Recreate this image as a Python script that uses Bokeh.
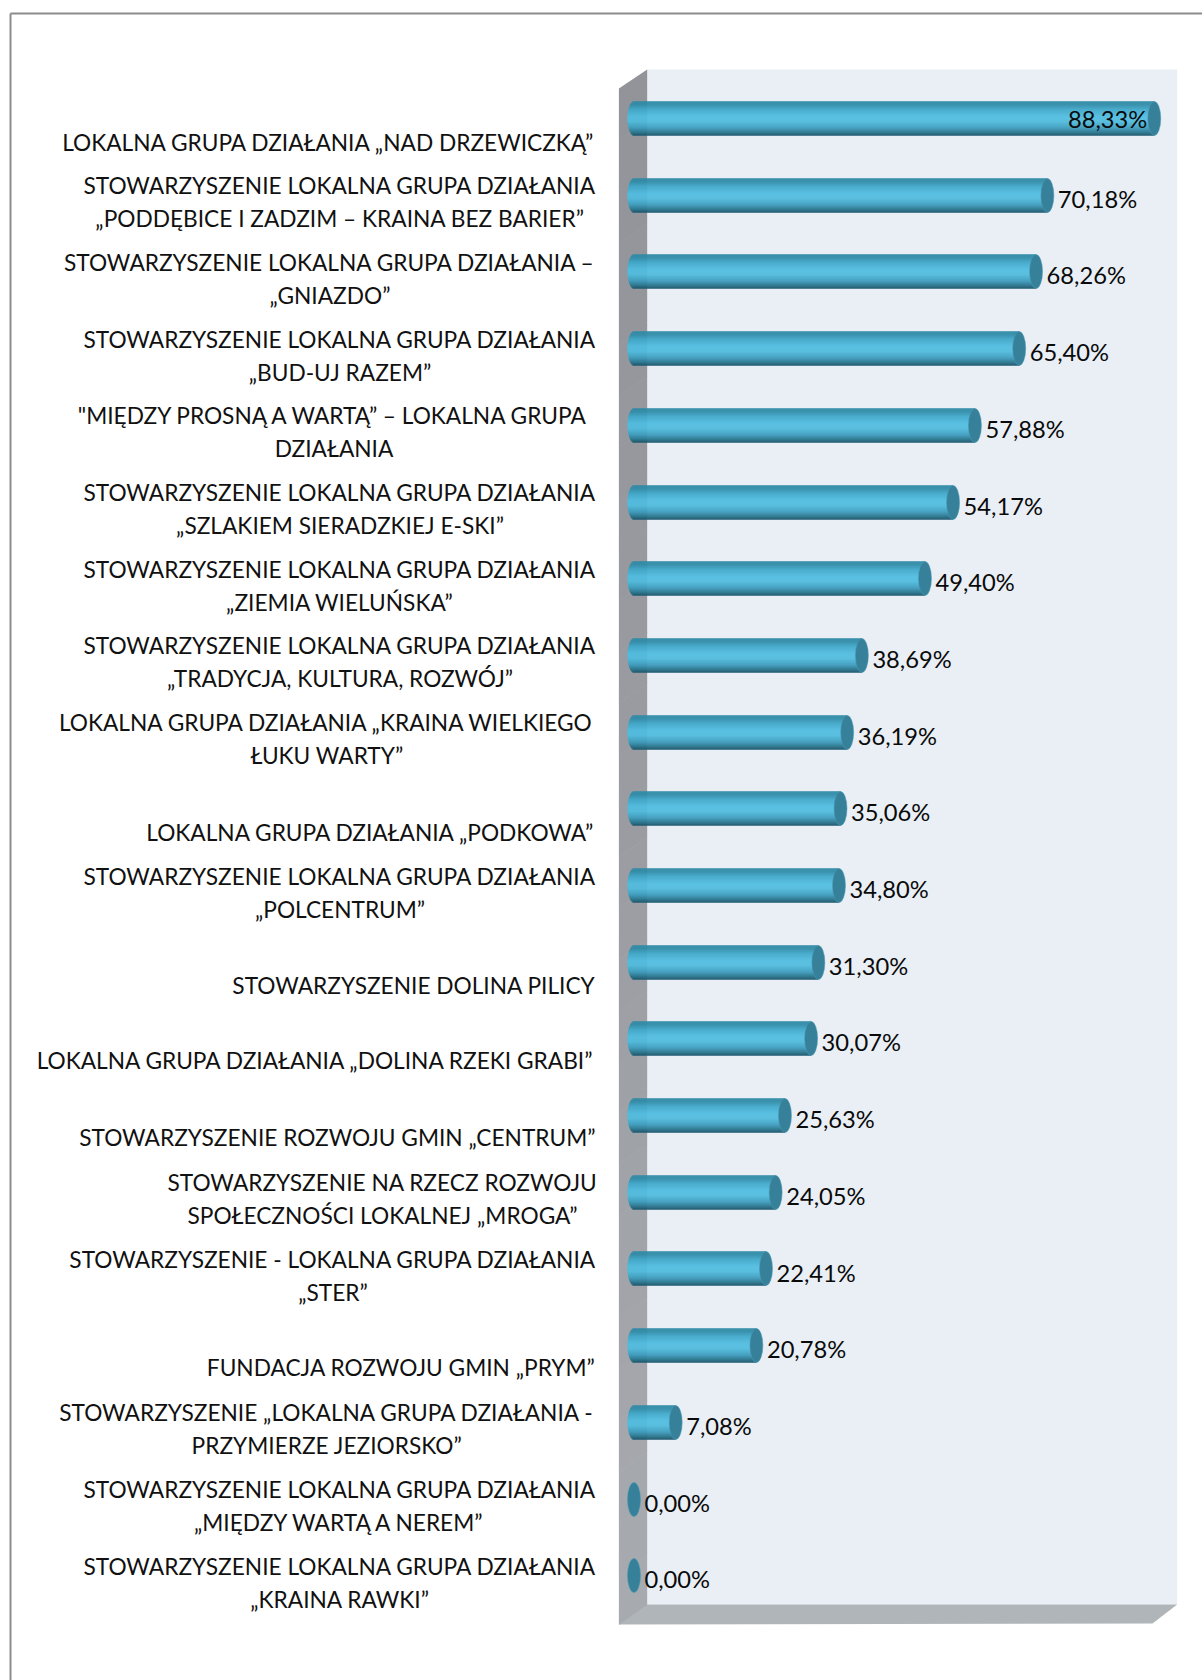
import math
from bokeh.plotting import figure
from bokeh.models import Range1d
from bokeh.core.properties import value
from bokeh.embed import file_html
from bokeh.resources import INLINE

labels = [
    ["LOKALNA GRUPA DZIAŁANIA „NAD DRZEWICZKĄ”"],
    ["STOWARZYSZENIE LOKALNA GRUPA DZIAŁANIA", "„PODDĘBICE I ZADZIM – KRAINA BEZ BARIER”"],
    ["STOWARZYSZENIE LOKALNA GRUPA DZIAŁANIA –", "„GNIAZDO”"],
    ["STOWARZYSZENIE LOKALNA GRUPA DZIAŁANIA", "„BUD-UJ RAZEM”"],
    ["\"MIĘDZY PROSNĄ A WARTĄ” – LOKALNA GRUPA", "DZIAŁANIA"],
    ["STOWARZYSZENIE LOKALNA GRUPA DZIAŁANIA", "„SZLAKIEM SIERADZKIEJ E-SKI”"],
    ["STOWARZYSZENIE LOKALNA GRUPA DZIAŁANIA", "„ZIEMIA WIELUŃSKA”"],
    ["STOWARZYSZENIE LOKALNA GRUPA DZIAŁANIA", "„TRADYCJA, KULTURA, ROZWÓJ”"],
    ["LOKALNA GRUPA DZIAŁANIA „KRAINA WIELKIEGO", "ŁUKU WARTY”"],
    ["LOKALNA GRUPA DZIAŁANIA „PODKOWA”"],
    ["STOWARZYSZENIE LOKALNA GRUPA DZIAŁANIA", "„POLCENTRUM”"],
    ["STOWARZYSZENIE DOLINA PILICY"],
    ["LOKALNA GRUPA DZIAŁANIA „DOLINA RZEKI GRABI”"],
    ["STOWARZYSZENIE ROZWOJU GMIN „CENTRUM”"],
    ["STOWARZYSZENIE NA RZECZ ROZWOJU", "SPOŁECZNOŚCI LOKALNEJ „MROGA”"],
    ["STOWARZYSZENIE - LOKALNA GRUPA DZIAŁANIA", "„STER”"],
    ["FUNDACJA ROZWOJU GMIN „PRYM”"],
    ["STOWARZYSZENIE „LOKALNA GRUPA DZIAŁANIA -", "PRZYMIERZE JEZIORSKO”"],
    ["STOWARZYSZENIE LOKALNA GRUPA DZIAŁANIA", "„MIĘDZY WARTĄ A NEREM”"],
    ["STOWARZYSZENIE LOKALNA GRUPA DZIAŁANIA", "„KRAINA RAWKI”"],
]
values = [88.33, 70.18, 68.26, 65.40, 57.88, 54.17, 49.40, 38.69, 36.19, 35.06,
          34.80, 31.30, 30.07, 25.63, 24.05, 22.41, 20.78, 7.08, 0.00, 0.00]

# layout, in picture pixels
PX0, PXU = 633.5, 5.89      # x pixel of 0 %, pixels per 1 %
PY0, PYU = 118.0, 76.7      # y pixel of the first bar, pixels per bar
W, H = 1202, 1680
HALF_H, CAP_W = 17, 13
TEXT_RIGHT = 595
BLOCK_WIDTH = {1: 511, 2: 531, 3: 511, 4: 523, 5: 511, 6: 511, 7: 511, 8: 537,
               10: 511, 14: 426, 15: 525, 17: 537, 18: 511, 19: 511}

def X(px):
    return (px - PX0) / PXU
def Y(py):
    return (py - PY0) / PYU

p = figure(width=W, height=H, output_backend="svg", toolbar_location=None,
           x_range=Range1d(X(0), X(W)), y_range=Range1d(Y(H), Y(0)),
           x_axis_location=None, y_axis_location=None, min_border=0,
           outline_line_color=None, background_fill_color="white",
           border_fill_color="white")
p.grid.visible = False

def hexmix(a, b, t):
    ca = [int(a[i:i + 2], 16) for i in (1, 3, 5)]
    cb = [int(b[i:i + 2], 16) for i in (1, 3, 5)]
    return "#%02x%02x%02x" % tuple(round(x + (y - x) * t) for x, y in zip(ca, cb))

def ramp(stops, t):
    for (t0, c0), (t1, c1) in zip(stops, stops[1:]):
        if t <= t1:
            return hexmix(c0, c1, (t - t0) / (t1 - t0))
    return stops[-1][1]

# frame of the picture
p.line([X(10), X(W)], [Y(13), Y(13)], line_color="#8c8c8c", line_width=2)
p.line([X(10), X(10)], [Y(13), Y(H)], line_color="#8c8c8c", line_width=2)

# back wall
p.patch([X(646.7), X(1176.7), X(1176.7), X(646.7)], [Y(69), Y(69), Y(1604), Y(1604)],
        fill_color="#e9eff5", line_color=None)
# floor
p.patch([X(618.4), X(646.7), X(1176.7), X(1152)], [Y(1624), Y(1604), Y(1604), Y(1623)],
        fill_color="#b0b5b9", line_color=None)
# side wall, in bands that darken toward the top
wall_stops = [(0, "#929499"), (0.5, "#9b9da2"), (1, "#a8abaf")]
N_WALL = 30
for k in range(N_WALL):
    a, b = k / N_WALL, (k + 1) / N_WALL
    tl, bl = 88 + (1624 - 88) * a, 88 + (1624 - 88) * b
    tr, br = 69 + (1604 - 69) * a, 69 + (1604 - 69) * b
    c = ramp(wall_stops, a)
    p.patch([X(618.4), X(646.7), X(646.7), X(618.4)],
            [Y(tl), Y(tr), Y(br + 0.6), Y(bl + 0.6)], fill_color=c, line_color=None)

# cylinders: overlapping pixel rows of colour following the curved left end
bar_stops = [(0, "#2f8aa6"), (0.1, "#2f8ca8"), (0.25, "#3fa8cb"), (0.45, "#50bcdf"),
             (0.6, "#50bbde"), (0.78, "#3d9dbe"), (0.9, "#2a7a94"), (1, "#1b566b")]
ys, lefts, rights, cols = [], [], [], []
centers = []
for i, v in enumerate(values):
    pyc = round(PY0 + PYU * i)
    centers.append(Y(pyc))
    if v <= 0:
        continue
    for r in range(HALF_H * 2):
        t = (r + 0.5) / (HALF_H * 2)
        u = 2 * t - 1
        ys.append(Y(pyc + r + 0.5 - HALF_H))
        lefts.append(-CAP_W / 2 * math.sqrt(1 - u * u) / PXU)
        rights.append(v)
        cols.append(ramp(bar_stops, t))
p.hbar(y=ys, left=lefts, right=rights, height=1.5 / PYU, fill_color=cols, line_color=None)

p.ellipse(x=values, y=centers, width=CAP_W, height=HALF_H * 2, width_units="screen",
          height_units="screen", fill_color="#37809a", line_color="#4a9ab5", line_width=0.5)

# value labels
FONT = "Lato"
out_i = [i for i, v in enumerate(values) if v < 85]
in_i = [i for i, v in enumerate(values) if v >= 85]
fmt = lambda v: f"{v:.2f}".replace(".", ",") + "%"
p.text(x=[values[i] for i in out_i], y=out_i, text=[fmt(values[i]) for i in out_i],
       x_offset=CAP_W / 2 + 4, y_offset=3.5, text_align="left", text_baseline="middle",
       text_font=value(FONT), text_font_size="23.7px", text_color="#0a0a0a")
p.text(x=[values[i] for i in in_i], y=in_i, text=[fmt(values[i]) for i in in_i],
       x_offset=-7, y_offset=0, text_align="right", text_baseline="middle",
       text_font=value(FONT), text_font_size="23.7px", text_color="#0a0a0a")

# category labels
for i, lines in enumerate(labels):
    if len(lines) == 1:
        p.text(x=[X(TEXT_RIGHT)], y=[i], text=lines, y_offset=23.5 if i < 12 else 22,
               text_align="right", text_baseline="middle", text_font=value(FONT),
               text_font_size="22.7px", text_color="#111111")
    else:
        cx = X(TEXT_RIGHT - BLOCK_WIDTH[i] / 2)
        p.text(x=[cx, cx], y=[i, i], text=lines, y_offset=[-9.5, 23.5], text_align="center",
               text_baseline="middle", text_font=value(FONT), text_font_size="22.7px",
               text_color="#111111")

open("out.html", "w").write(file_html(p, INLINE))
